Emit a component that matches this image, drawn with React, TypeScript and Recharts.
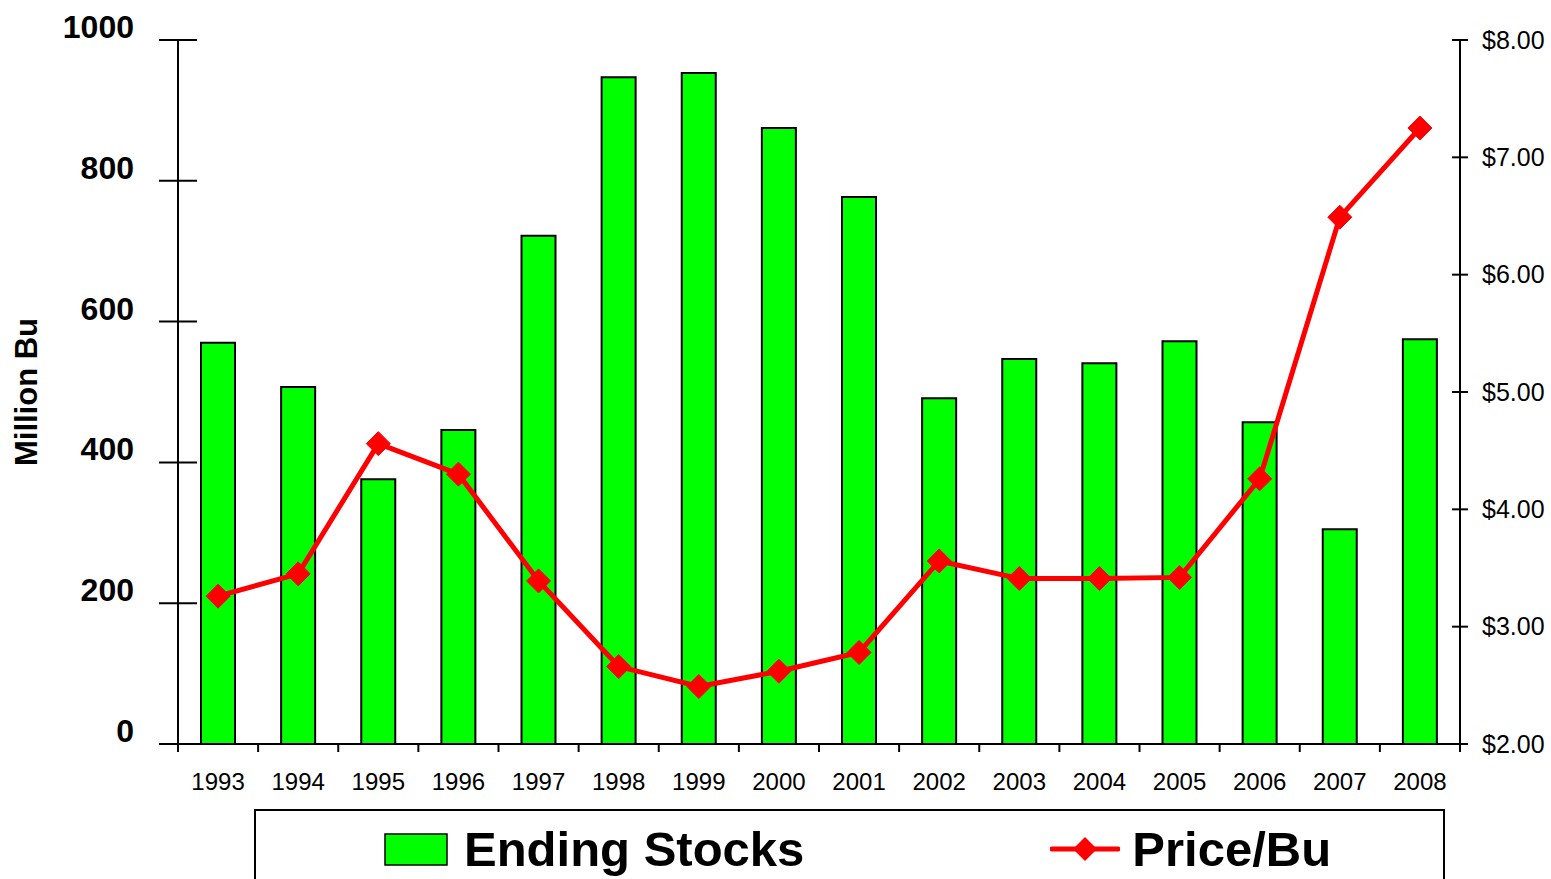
import { ComposedChart, Bar, Line, XAxis, YAxis, Legend } from 'recharts';

const years = ['1993', '1994', '1995', '1996', '1997', '1998', '1999', '2000', '2001', '2002', '2003', '2004', '2005', '2006', '2007', '2008'];
const endingStocks = [570, 507, 376, 446, 722, 947, 953, 875, 777, 491, 547, 541, 572, 457, 305, 575];
const pricePerBu = [3.26, 3.45, 4.56, 4.3, 3.39, 2.66, 2.49, 2.62, 2.78, 3.56, 3.41, 3.41, 3.42, 4.26, 6.49, 7.25];
const stockTicks = [0, 200, 400, 600, 800, 1000];
const priceTicks = [2, 3, 4, 5, 6, 7, 8];

const data = years.map((year, i) => ({ year, stocks: endingStocks[i], price: pricePerBu[i] }));

const FONT = '"Liberation Sans", Arial, sans-serif';
const RED = '#FF0000';
const GREEN = '#00FF00';

// left axis: ticks cross the axis line, labels bold and sitting a bit high
const LeftTick = (props: any) => {
  const { x, y, payload } = props;
  const axisX = x + 19 + 25;
  return (
    <g>
      <line x1={axisX - 19} y1={y} x2={axisX + 19} y2={y} stroke="#000" strokeWidth={2} />
      <text x={x} y={y - 2} textAnchor="end" fontFamily={FONT} fontWeight="bold" fontSize={32} fill="#000">
        {payload.value}
      </text>
    </g>
  );
};

const RightTick = (props: any) => {
  const { x, y, payload } = props;
  const axisX = x - 8 - 14;
  return (
    <g>
      <line x1={axisX - 8} y1={y} x2={axisX + 8} y2={y} stroke="#000" strokeWidth={2} />
      <text x={x} y={y + 8.5} textAnchor="start" fontFamily={FONT} fontSize={25} fill="#000">
        {'$' + Number(payload.value).toFixed(2)}
      </text>
    </g>
  );
};

// x axis: tick marks between categories, label in the middle
const YearTick = (props: any) => {
  const { x, y, payload, index, visibleTicksCount, width } = props;
  const half = payload.offset || width / visibleTicksCount / 2;
  return (
    <g>
      <line x1={x - half} y1={y - 8} x2={x - half} y2={y} stroke="#000" strokeWidth={2} />
      {index === visibleTicksCount - 1 && (
        <line x1={x + half} y1={y - 8} x2={x + half} y2={y} stroke="#000" strokeWidth={2} />
      )}
      <text x={x} y={y + 38} textAnchor="middle" fontFamily={FONT} fontSize={24} fill="#000">
        {payload.value}
      </text>
    </g>
  );
};

const Diamond = (props: any) => {
  const { cx, cy, index } = props;
  const r = 12;
  return (
    <path
      key={'d' + index}
      d={`M${cx},${cy - r}L${cx + r},${cy}L${cx},${cy + r}L${cx - r},${cy}Z`}
      fill={RED}
      stroke={RED}
      strokeWidth={1}
    />
  );
};

const AxisTitle = (props: any) => {
  const { viewBox } = props;
  const x = viewBox.x + 37;
  const y = viewBox.y + viewBox.height / 2;
  return (
    <text
      x={x}
      y={y}
      transform={`rotate(-90, ${x}, ${y})`}
      textAnchor="middle"
      fontFamily={FONT}
      fontWeight="bold"
      fontSize={31}
      fill="#000"
    >
      Million Bu
    </text>
  );
};

const LegendIcon = ({ type }: { type: string }) => {
  if (type === 'line') {
    return (
      <svg width={70} height={30}>
        <line x1={2} y1={15} x2={68} y2={15} stroke={RED} strokeWidth={5} strokeLinecap="round" />
        <path d="M35,3L47,15L35,27L23,15Z" fill={RED} />
      </svg>
    );
  }
  return (
    <svg width={64} height={33}>
      <rect x={1} y={1} width={62} height={31} fill={GREEN} stroke="#000" strokeWidth={1.5} />
    </svg>
  );
};

const renderLegend = (props: any) => {
  const { payload = [] } = props;
  return (
    <div
      style={{
        width: 1191,
        height: 70,
        boxSizing: 'border-box',
        borderTop: '2px solid #000',
        borderLeft: '2px solid #000',
        borderRight: '2px solid #000',
        display: 'flex',
        alignItems: 'flex-start',
        paddingLeft: 128,
        paddingTop: 14,
        fontFamily: FONT,
        fontWeight: 'bold',
        fontSize: 49,
        lineHeight: '48px',
        color: '#000',
      }}
    >
      {payload.map((entry: any, i: number) => (
        <div
          key={entry.value}
          style={{ display: 'flex', alignItems: 'center', marginRight: i === 0 ? 246 : 0 }}
        >
          <LegendIcon type={entry.type} />
          <span style={{ marginLeft: entry.type === 'line' ? 12 : 16 }}>{entry.value}</span>
        </div>
      ))}
    </div>
  );
};

export default function App() {
  return (
    <div style={{ position: 'absolute', left: 0, top: 0 }}>
      <ComposedChart
        width={1551}
        height={879}
        data={data}
        margin={{ top: 40, right: 0, left: 0, bottom: 0 }}
        style={{ fontFamily: FONT }}
      >
        <XAxis
          dataKey="year"
          height={135}
          axisLine={{ stroke: '#000', strokeWidth: 2 }}
          tickLine={false}
          tickSize={8}
          tickMargin={0}
          interval={0}
          tick={<YearTick />}
        />
        <YAxis
          yAxisId="left"
          width={178}
          domain={[0, 1000]}
          ticks={stockTicks}
          interval={0}
          axisLine={{ stroke: '#000', strokeWidth: 2 }}
          tickLine={false}
          tickSize={19}
          tickMargin={25}
          tick={<LeftTick />}
          label={{ content: <AxisTitle /> }}
        />
        <YAxis
          yAxisId="right"
          orientation="right"
          width={91}
          domain={[2, 8]}
          ticks={priceTicks}
          interval={0}
          axisLine={{ stroke: '#000', strokeWidth: 2 }}
          tickLine={false}
          tickSize={8}
          tickMargin={14}
          tick={<RightTick />}
        />
        <Legend
          layout="horizontal"
          align="center"
          verticalAlign="middle"
          wrapperStyle={{ left: 254, top: 809, width: 1191, height: 70 }}
          content={renderLegend}
        />
        <Bar
          yAxisId="left"
          dataKey="stocks"
          name="Ending Stocks"
          fill={GREEN}
          stroke="#000"
          strokeWidth={2}
          barSize={34}
          isAnimationActive={false}
        />
        <Line
          yAxisId="right"
          dataKey="price"
          name="Price/Bu"
          type="linear"
          stroke={RED}
          strokeWidth={5}
          dot={Diamond}
          activeDot={false}
          isAnimationActive={false}
        />
      </ComposedChart>
    </div>
  );
}
